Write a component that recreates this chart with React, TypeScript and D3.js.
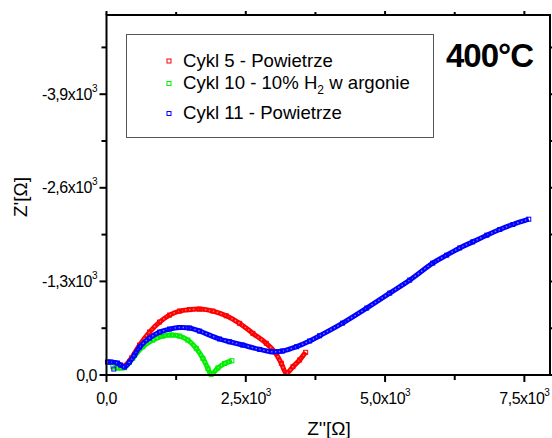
import React from 'react';
import * as d3 from 'd3';

const W = 552;
const H = 438;

// [Z', Z''], in ohm
const cykl5: [number, number][] = [
  [198, -125], [323, -125], [449, -236], [593, -416], [772, -596], [952, -735],
  [1131, -832], [1311, -888], [1491, -908], [1670, -915], [1909, -888], [2150, -822],
  [2389, -717], [2628, -578], [2868, -440], [3017, -323], [3138, -162], [3227, -24],
  [3346, -115], [3466, -208], [3574, -315],
];
const cykl10: [number, number][] = [
  [113, -115], [198, -97], [323, -101], [472, -232], [652, -393], [832, -485],
  [1011, -541], [1162, -555], [1311, -541], [1460, -485], [1611, -370], [1730, -232],
  [1819, -93], [1880, -10], [1999, -97], [2119, -160], [2250, -198],
];
const cykl11: [number, number][] = [
  [18, -180], [72, -180], [198, -166], [251, -139], [323, -111], [413, -180],
  [503, -277], [593, -388], [772, -513], [952, -596], [1131, -638], [1311, -659],
  [1491, -652], [1670, -610], [2029, -500], [2209, -462], [2443, -416], [2748, -356],
  [2963, -323], [3161, -333], [3412, -393], [3646, -472], [3825, -545], [4238, -721],
  [4670, -929], [5083, -1137], [5442, -1318], [5855, -1554], [6106, -1664], [6340, -1765],
  [6573, -1849], [6825, -1942], [7058, -2021], [7292, -2090], [7579, -2164],
];
const cykl11Stray: [number, number][] = [[131, -83]];

const seriesData = [cykl5, cykl10, cykl11];
const seriesColors = ['#ff0000', '#00ee00', '#0000ff'];
const legendNames = ['Cykl 5 - Powietrze', 'Cykl 10 - 10% H', 'Cykl 11 - Powietrze'];

const xMajor = [0, 2500, 5000, 7500];
const xMinor = [1250, 3750, 6250];
const yMajor = [0, -1300, -2600, -3900];
const yMinor = [-650, -1950, -3250, -4550];

const FONT = "'Liberation Sans', Arial, sans-serif";

const label = (v: number) =>
  v === 0 ? { m: '0,0', e: '' } : { m: (v / 1000).toFixed(1).replace('.', ',') + 'x10', e: '3' };

const App = () => {
  const x = d3.scaleLinear().domain([0, 7960]).range([106.5, 550]);
  const y = d3.scaleLinear().domain([0, -5000]).range([375, 15]);
  const line = d3
    .line<[number, number]>()
    .x(d => x(d[0]))
    .y(d => y(d[1]))
    .curve(d3.curveCatmullRom.alpha(0.5));

  const left = x(0), right = x(7960), top = y(-5000), bottom = y(0);

  return (
    <svg width={W} height={H} style={{ position: 'absolute', left: 0, top: 0, background: '#fff' }}
      fontFamily={FONT}>
      {/* curves */}
      {seriesData.map((s, i) => (
        <g key={i}>
          <path d={line(s) || ''} fill="none" stroke={seriesColors[i]} strokeWidth={5} />
          <path d={line(s) || ''} fill="none" stroke="#fff" strokeOpacity={0.45} strokeWidth={1.5}
            strokeDasharray="1.5 2.5" />
          {s.map((d, j) => (
            <rect key={j} x={x(d[0]) - 2} y={y(d[1]) - 2} width={4} height={4}
              fill="none" stroke={seriesColors[i]} strokeWidth={1} />
          ))}
        </g>
      ))}
      {cykl11Stray.map((d, j) => (
        <rect key={j} x={x(d[0]) - 2} y={y(d[1]) - 2} width={4} height={4}
          fill="none" stroke={seriesColors[2]} strokeWidth={1} />
      ))}

      {/* frame */}
      <rect x={left} y={top} width={right - left} height={bottom - top} fill="none"
        stroke="#000" strokeWidth={2} />

      {/* x ticks */}
      {xMajor.map(v => (
        <g key={v}>
          <line x1={x(v)} x2={x(v)} y1={bottom} y2={bottom + 7} stroke="#000" strokeWidth={2} />
          <line x1={x(v)} x2={x(v)} y1={top} y2={top - 4} stroke="#000" strokeWidth={2} />
          <text x={x(v)} y={404} textAnchor="middle" fontSize={16} letterSpacing={-0.5}>
            {label(v).m}
            {label(v).e && <tspan dy={-8} fontSize={10}>{label(v).e}</tspan>}
          </text>
        </g>
      ))}
      {xMinor.map(v => (
        <g key={v}>
          <line x1={x(v)} x2={x(v)} y1={bottom} y2={bottom + 5} stroke="#000" strokeWidth={2} />
          <line x1={x(v)} x2={x(v)} y1={top} y2={top - 3} stroke="#000" strokeWidth={2} />
        </g>
      ))}

      {/* y ticks */}
      {yMajor.map(v => (
        <g key={v}>
          <line x1={left} x2={left - 7} y1={y(v)} y2={y(v)} stroke="#000" strokeWidth={2} />
          <line x1={right} x2={right + 4} y1={y(v)} y2={y(v)} stroke="#000" strokeWidth={2} />
          <text x={97} y={y(v) + 5.5} textAnchor="end" fontSize={16} letterSpacing={-0.5}>
            {label(v).m}
            {label(v).e && <tspan dy={-8} fontSize={10}>{label(v).e}</tspan>}
          </text>
        </g>
      ))}
      {yMinor.map(v => (
        <g key={v}>
          <line x1={left} x2={left - 5} y1={y(v)} y2={y(v)} stroke="#000" strokeWidth={2} />
          <line x1={right} x2={right + 3} y1={y(v)} y2={y(v)} stroke="#000" strokeWidth={2} />
        </g>
      ))}

      {/* axis titles */}
      <text x={329} y={435} textAnchor="middle" fontSize={19}>Z''[Ω]</text>
      <text transform="translate(27,197) rotate(-90)" textAnchor="middle" fontSize={19}>Z'[Ω]</text>

      {/* legend */}
      <rect x={126.5} y={34.5} width={307} height={103} fill="#fff" stroke="#555" strokeWidth={1} />
      {legendNames.map((n, i) => {
        const my = [61, 83.5, 113.5][i];
        return (
          <g key={i}>
            <rect x={167} y={my - 2} width={4} height={4} fill="none" stroke={seriesColors[i]} strokeWidth={1} />
            <text x={183} y={my + 5.5} fontSize={18.6}>
              {n}
              {i === 1 && (
                <>
                  <tspan dy={5} fontSize={12}>2</tspan>
                  <tspan dy={-5}> w argonie</tspan>
                </>
              )}
            </text>
          </g>
        );
      })}

      <text x={446} y={66.5} fontSize={33} fontWeight="bold" letterSpacing={-1}>400°C</text>
    </svg>
  );
};

export default App;
